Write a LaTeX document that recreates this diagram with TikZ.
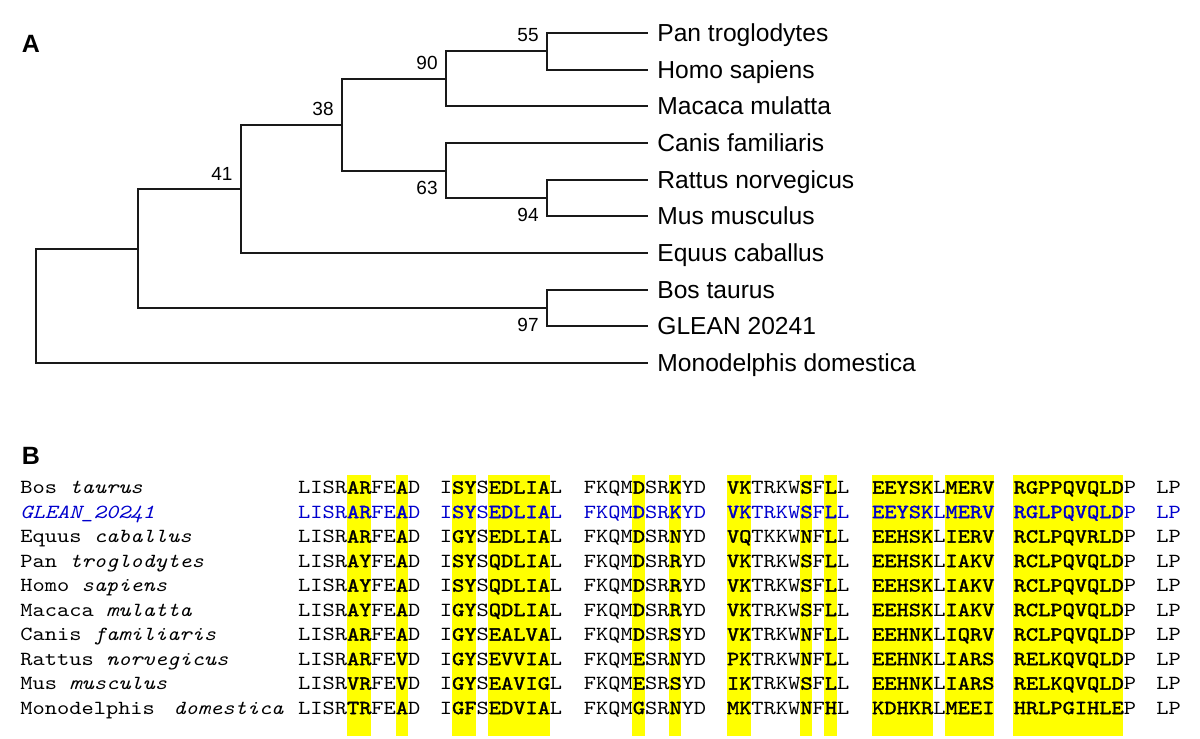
\documentclass[tikz,border=0pt]{standalone}
\usepackage{fontspec}
\newfontfamily\lsans{Liberation Sans}
\newfontfamily\mono[FakeStretch=1.165]{lmmono10-regular.otf}
\newfontfamily\monoit[FakeStretch=1.165]{lmmono10-italic.otf}
\newfontfamily\monobf[FakeStretch=1.165,FakeBold=1.6]{lmmono10-regular.otf}
\definecolor{hlyellow}{RGB}{255,255,0}
\definecolor{gleanblue}{RGB}{0,0,205}
\definecolor{treeline}{RGB}{25,25,25}
\expandafter\def\csname mask1\endcsname{0000110010}
\expandafter\def\csname mask2\endcsname{0110111110}
\expandafter\def\csname mask3\endcsname{0000100100}
\expandafter\def\csname mask4\endcsname{1100001010}
\expandafter\def\csname mask5\endcsname{1111101111}
\expandafter\def\csname mask6\endcsname{1111111110}
\expandafter\def\csname mask7\endcsname{00}
\def\bxs{{297.7,439.5,583.5,726.6,871.7,1013.3,1156}}
\def\alseq#1#2{\alseqi#1\relax#2\relax}
\def\alseqi#1#2\relax#3#4\relax{\if1#1{\monobf#3}\else#3\fi\ifx\relax#2\relax\else\alseqi#2\relax#4\relax\fi}
\newcommand\alrow[4]{%
  \pgfmathsetmacro\rowy{487.5+24.5*(#1-1)+6.1}%
  \node[nm, text=#3] (sp#1) at (20,\rowy) {#2};%
  \foreach \s [count=\k] in {#4} {%
    \pgfmathsetmacro\xx{\bxs[\k-1]}%
    \node[sq, text=#3] (s#1-\k) at (\xx,\rowy) {\edef\tmp{\noexpand\alseq{\csname mask\k\endcsname}{\s}}\tmp};%
  }%
}
\begin{document}
\begin{tikzpicture}[x=0.5pt,y=-0.5pt,
  br/.style={draw=treeline, line width=1pt},
  leaf/.style={font=\fontsize{12.3pt}{14pt}\lsans, anchor=west, inner xsep=4.5pt, inner ysep=0pt, text height=8.7pt, text depth=0pt},
  bsl/.style={font=\fontsize{9.5pt}{11pt}\lsans, inner sep=0pt, text height=6.8pt, text depth=0pt, anchor=center},
  pl/.style={font=\fontsize{12.5pt}{14pt}\lsans\bfseries, inner sep=0pt, text height=9pt, text depth=0pt, anchor=center},
  nm/.style={font=\fontsize{10pt}{12pt}\mono, inner sep=0pt, anchor=base west},
  sq/.style={font=\fontsize{10pt}{12pt}\mono, inner sep=0pt, anchor=base west},
  hl/.style={fill=hlyellow}]
\fill[white] (0,0) rectangle (1200,739);
\useasboundingbox (0,0) rectangle (1200,739);

% panel labels
\node[pl] (labA) at (31,43.5) {A};
\node[pl] (labB) at (31,455) {B};

% ---------- tree ----------
\node[leaf] (pan)   at (648,33)  {Pan troglodytes};
\node[leaf] (homo)  at (648,70)  {Homo sapiens};
\node[leaf] (mac)   at (648,106) {Macaca mulatta};
\node[leaf] (can)   at (648,143) {Canis familiaris};
\node[leaf] (rat)   at (648,180) {Rattus norvegicus};
\node[leaf] (mus)   at (648,216) {Mus musculus};
\node[leaf] (equ)   at (648,253) {Equus caballus};
\node[leaf] (bos)   at (648,290) {Bos taurus};
\node[leaf] (glean) at (648,326) {GLEAN 20241};
\node[leaf] (mono)  at (648,363) {Monodelphis domestica};

\coordinate (n55)  at (547,51);
\coordinate (n90)  at (446,79);
\coordinate (n94)  at (547,198);
\coordinate (n63)  at (446,171);
\coordinate (n38)  at (342,125);
\coordinate (n41)  at (241,189);
\coordinate (n97)  at (547,308);
\coordinate (nB)   at (138,249);
\coordinate (root) at (36,306);

\draw[br] (n55) |- (pan.west);
\draw[br] (n55) |- (homo.west);
\draw[br] (n90) |- (n55);
\draw[br] (n90) |- (mac.west);
\draw[br] (n94) |- (rat.west);
\draw[br] (n94) |- (mus.west);
\draw[br] (n63) |- (can.west);
\draw[br] (n63) |- (n94);
\draw[br] (n38) |- (n90);
\draw[br] (n38) |- (n63);
\draw[br] (n41) |- (n38);
\draw[br] (n41) |- (equ.west);
\draw[br] (n97) |- (bos.west);
\draw[br] (n97) |- (glean.west);
\draw[br] (nB) |- (n41);
\draw[br] (nB) |- (n97);
\draw[br] (root) |- (nB);
\draw[br] (root) |- (mono.west);

\node[bsl] (b55) at ([shift={(-19,-16)}]n55) {55};
\node[bsl] (b90) at ([shift={(-19,-16)}]n90) {90};
\node[bsl] (b38) at ([shift={(-19,-16)}]n38) {38};
\node[bsl] (b41) at ([shift={(-19,-15)}]n41) {41};
\node[bsl] (b63) at ([shift={(-19,17)}]n63) {63};
\node[bsl] (b94) at ([shift={(-19,17)}]n94) {94};
\node[bsl] (b97) at ([shift={(-19,17)}]n97) {97};

% ---------- alignment highlights ----------
\foreach \b/\c/\d in {1/5/6,1/9/9,2/2/3,2/5/9,3/5/5,3/8/8,4/1/2,4/7/7,4/9/9,5/1/5,5/7/10,6/1/9} {
  \pgfmathsetmacro\xa{\bxs[\b-1]+(\c-1)*12.2325}
  \pgfmathsetmacro\xb{\bxs[\b-1]+\d*12.2325}
  \fill[hl] (\xa,475) rectangle (\xb,736);
}

% ---------- alignment rows ----------
\alrow{1}{Bos {\monoit taurus}}{black}{LISRARFEAD,ISYSEDLIAL,FKQMDSRKYD,VKTRKWSFLL,EEYSKLMERV,RGPPQVQLDP,LP}
\alrow{2}{{\monoit GLEAN\_20241}}{gleanblue}{LISRARFEAD,ISYSEDLIAL,FKQMDSRKYD,VKTRKWSFLL,EEYSKLMERV,RGLPQVQLDP,LP}
\alrow{3}{Equus {\monoit caballus}}{black}{LISRARFEAD,IGYSEDLIAL,FKQMDSRNYD,VQTKKWNFLL,EEHSKLIERV,RCLPQVRLDP,LP}
\alrow{4}{Pan {\monoit troglodytes}}{black}{LISRAYFEAD,ISYSQDLIAL,FKQMDSRRYD,VKTRKWSFLL,EEHSKLIAKV,RCLPQVQLDP,LP}
\alrow{5}{Homo {\monoit sapiens}}{black}{LISRAYFEAD,ISYSQDLIAL,FKQMDSRRYD,VKTRKWSFLL,EEHSKLIAKV,RCLPQVQLDP,LP}
\alrow{6}{Macaca {\monoit mulatta}}{black}{LISRAYFEAD,IGYSQDLIAL,FKQMDSRRYD,VKTRKWSFLL,EEHSKLIAKV,RCLPQVQLDP,LP}
\alrow{7}{Canis {\monoit familiaris}}{black}{LISRARFEAD,IGYSEALVAL,FKQMDSRSYD,VKTRKWNFLL,EEHNKLIQRV,RCLPQVQLDP,LP}
\alrow{8}{Rattus {\monoit norvegicus}}{black}{LISRARFEVD,IGYSEVVIAL,FKQMESRNYD,PKTRKWNFLL,EEHNKLIARS,RELKQVQLDP,LP}
\alrow{9}{Mus {\monoit musculus}}{black}{LISRVRFEVD,IGYSEAVIGL,FKQMESRSYD,IKTRKWSFLL,EEHNKLIARS,RELKQVQLDP,LP}
\alrow{10}{Monodelphis\hspace{9.2pt}{\monoit domestica}}{black}{LISRTRFEAD,IGFSEDVIAL,FKQMGSRNYD,MKTRKWNFHL,KDHKRLMEEI,HRLPGIHLEP,LP}
\end{tikzpicture}
\end{document}
